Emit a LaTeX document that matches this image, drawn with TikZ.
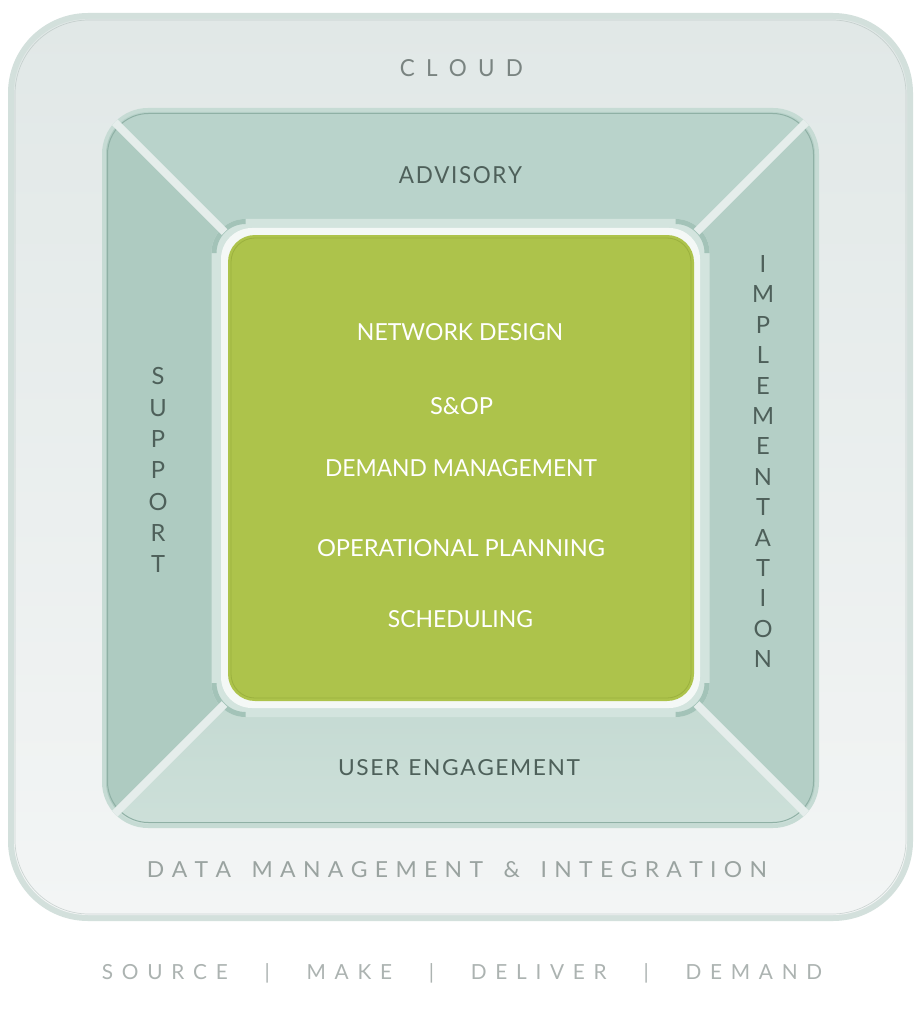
\documentclass[tikz,border=0pt]{standalone}
\usepackage{fontspec}
\setmainfont{Lato}
\usepackage{graphicx}
\makeatletter
\newcommand\spaceout[2]{\let\so@first\relax\@tfor\so@t:=#2\do{\ifx\so@first\relax\else\hskip#1\relax\fi\let\so@first\@empty\so@t}}
\makeatother
\definecolor{outerband}{HTML}{D3E0DC}
\definecolor{outertop}{HTML}{E1E8E7}
\definecolor{outerbot}{HTML}{F3F5F5}
\definecolor{outerline}{HTML}{B4C1BE}
\definecolor{midband}{HTML}{C6DBD4}
\definecolor{midline}{HTML}{8FB0A5}
\definecolor{qtopc}{HTML}{B9D3CB}
\definecolor{qleftc}{HTML}{AECBC1}
\definecolor{qrightc}{HTML}{B4CFC6}
\definecolor{qbottop}{HTML}{B6D0C7}
\definecolor{qbotbot}{HTML}{DCEAE5}
\definecolor{diagc}{HTML}{E5EDEB}
\definecolor{ringc}{HTML}{D3E4DE}
\definecolor{ringdark}{HTML}{A3C3B8}
\definecolor{ringwhite}{HTML}{F4F8F6}
\definecolor{greenc}{HTML}{ADC34B}
\definecolor{greenline}{HTML}{9BB13E}
\definecolor{cloudtxt}{HTML}{7A8481}
\definecolor{darktxt}{HTML}{4E605A}
\definecolor{datatxt}{HTML}{9AA3A0}
\definecolor{bottxt}{HTML}{ACB3B1}
\begin{document}
\begin{tikzpicture}[x=1pt,y=-1pt,
  lbl/.style={inner sep=0pt, outer sep=0pt, anchor=center},
  sideletter/.style={lbl, text=darktxt, font=\fontsize{23.7}{24}\selectfont},
  greentxt/.style={lbl, text=white},
  diag/.style={draw=diagc, line width=8pt, line cap=butt}]
\useasboundingbox (0,0) rectangle (922,1024);
\fill[white] (0,0) rectangle (922,1024);
\coordinate (c) at (460.5,468);
% outer frame
\fill[outerband, rounded corners=80pt] (8,13) rectangle (913,921);
\shade[top color=outertop, bottom color=outerbot, rounded corners=74pt] (14,19) rectangle (907,915);
\draw[outerline, line width=0.7pt, rounded corners=74pt, opacity=0.6] (15,20) rectangle (906,914);
% middle square
\fill[midband, rounded corners=46pt] (102,108) rectangle (819,828);
\begin{scope}
  \clip[rounded corners=42pt] (106,112) rectangle (815,824);
  \fill[qtopc] (c) -- ++(-600,-600) -- ++(1200,0) -- cycle;
  \fill[qleftc] (c) -- ++(-600,-600) -- ++(0,1200) -- cycle;
  \fill[qrightc] (c) -- ++(600,-600) -- ++(0,1200) -- cycle;
  \shade[top color=qbottop, bottom color=qbotbot] (c) -- ++(-600,600) -- ++(1200,0) -- cycle;
\end{scope}
\draw[midline, line width=1pt, rounded corners=41pt] (107.5,113.5) rectangle (813.5,822.5);
% inner ring
\fill[ringc, rounded corners=34pt] (211.5,219) rectangle (709.5,717);
\begin{scope}
  \clip (211.5,219) rectangle (245.5,253)
        (675.5,219) rectangle (709.5,253)
        (211.5,683) rectangle (245.5,717)
        (675.5,683) rectangle (709.5,717);
  \draw[ringdark, line width=5pt, rounded corners=31.5pt] (214,221.5) rectangle (707,714.5);
\end{scope}
% diagonal separators (clipped to the middle square)
\coordinate (tlA) at ([shift={(-360,-360)}]c);
\coordinate (tlB) at ([shift={(-236,-236)}]c);
\coordinate (trA) at ([shift={(360,-360)}]c);
\coordinate (trB) at ([shift={(236,-236)}]c);
\coordinate (blA) at ([shift={(-360,360)}]c);
\coordinate (blB) at ([shift={(-236,236)}]c);
\coordinate (brA) at ([shift={(360,360)}]c);
\coordinate (brB) at ([shift={(236,236)}]c);
\begin{scope}
  \clip[rounded corners=46pt] (102,108) rectangle (819,828);
  \draw[diag] (tlA) -- (tlB);
  \draw[diag] (trA) -- (trB);
  \draw[diag] (blA) -- (blB);
  \draw[diag] (brA) -- (brB);
\end{scope}
% white rim and green core
\fill[ringwhite, rounded corners=31pt] (221,228) rectangle (700,708);
\fill[greenc, rounded corners=27pt] (228,235) rectangle (694,701);
\draw[greenline, line width=0.8pt, rounded corners=24pt] (231,238) rectangle (691,698);
% labels
\node[lbl, text=cloudtxt] (cloud) at (461.5,68.5) {\resizebox{123pt}{17pt}{\spaceout{0.5em}{CLOUD}}};
\node[lbl, text=darktxt] (advisory) at (460.5,175.5) {\resizebox{123pt}{17pt}{\spaceout{0.07em}{ADVISORY}}};
\node[greentxt] (netdesign) at (460,332.5) {\resizebox{206pt}{17pt}{NETWORK DESIGN}};
\node[greentxt] (sop) at (461.5,406) {\resizebox{63pt}{17pt}{S\&OP}};
\node[greentxt] (demand) at (461,468.5) {\resizebox{272pt}{17pt}{DEMAND MANAGEMENT}};
\node[greentxt] (opplan) at (461,548) {\resizebox{288pt}{17pt}{OPERATIONAL PLANNING}};
\node[greentxt] (sched) at (460.5,619) {\resizebox{145pt}{17pt}{SCHEDULING}};
\node[lbl, text=darktxt] (usereng) at (459,768) {\resizebox{242pt}{16pt}{\spaceout{0.07em}{USER~ENGAGEMENT}}};
\foreach \l [count=\i] in {S,U,P,P,O,R,T}
  \node[sideletter] (sup\i) at (158,{376.5+31.3*(\i-1)}) {\l};
\foreach \l [count=\i] in {I,M,P,L,E,M,E,N,T,A,T,I,O,N}
  \node[sideletter] (impl\i) at (763,{264+30.4*(\i-1)}) {\l};
\node[lbl, text=datatxt] (datamgmt) at (457,870) {\resizebox{620pt}{16pt}{\spaceout{0.32em}{DATA~MANAGEMENT~\&~INTEGRATION}}};
\node[lbl, text=bottxt, anchor=base] (scor) at (462,979.5) {\fontsize{23.7}{24}\selectfont\resizebox{720pt}{!}{\spaceout{0.42em}{SOURCE~~|~~MAKE~~|~~DELIVER~~|~~DEMAND}}};
\end{tikzpicture}
\end{document}
